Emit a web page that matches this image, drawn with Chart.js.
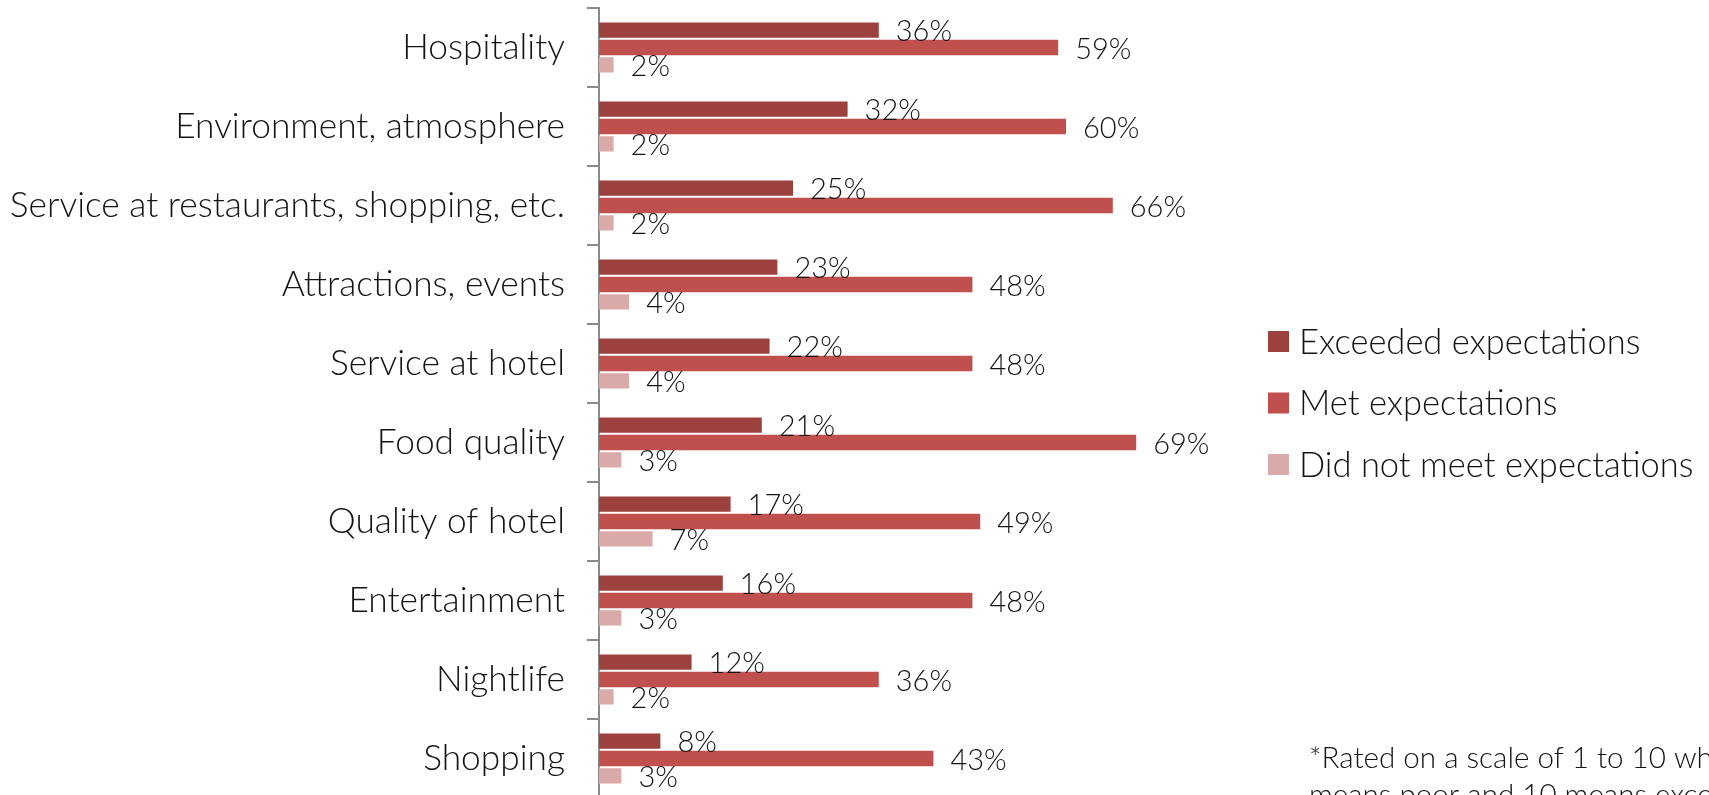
<!DOCTYPE html>
<html>
<head>
<meta charset="utf-8">
<script src="https://cdn.jsdelivr.net/npm/chart.js@4.4.1/dist/chart.umd.min.js"></script>
<style>
  html, body { margin: 0; padding: 0; background: #fff; overflow: hidden; }
  #wrap { position: relative; width: 1709px; height: 806px; }
</style>
</head>
<body>
<div id="wrap"><canvas id="chart"></canvas></div>
<script>
// Satisfaction ratings by aspect of the visit (percent of respondents)
const categories = [
  'Hospitality',
  'Environment, atmosphere',
  'Service at restaurants, shopping, etc.',
  'Attractions, events',
  'Service at hotel',
  'Food quality',
  'Quality of hotel',
  'Entertainment',
  'Nightlife',
  'Shopping'
];
const seriesNames = ['Exceeded expectations', 'Met expectations', 'Did not meet expectations'];
const exceeded = [36, 32, 25, 23, 22, 21, 17, 16, 12, 8];
const met      = [59, 60, 66, 48, 48, 69, 49, 48, 36, 43];
const notMet   = [2, 2, 2, 4, 4, 3, 7, 3, 2, 3];
const seriesColors = ['#9D413E', '#C0504D', '#DAAAA9'];
const footnoteLines = [
  '*Rated on a scale of 1 to 10 where 1',
  'means poor and 10 means excellent'
];

const FONT = "Lato, 'Open Sans', 'DejaVu Sans', sans-serif";
const FS_CAT = 35.3;  // category labels
const FS_LEG = 34.5;  // legend text
const FS_VAL = 29;    // value labels
const INK = '#141414';

// value labels just past the end of each bar
const valueLabels = {
  id: 'valueLabels',
  afterDatasetsDraw(chart) {
    const ctx = chart.ctx;
    ctx.save();
    ctx.font = `300 ${FS_VAL}px ${FONT}`;
    ctx.fillStyle = INK;
    ctx.textAlign = 'left';
    ctx.textBaseline = 'middle';
    chart.data.datasets.forEach((ds, di) => {
      const meta = chart.getDatasetMeta(di);
      meta.data.forEach((bar, i) => {
        ctx.fillText(ds.data[i] + '%', bar.x + 16, bar.y + 2);
      });
    });
    ctx.restore();
  }
};

// legend on the right and the footnote below it
const sideNotes = {
  id: 'sideNotes',
  afterDraw(chart) {
    const ctx = chart.ctx;
    ctx.save();
    ctx.font = `300 ${FS_LEG}px ${FONT}`;
    ctx.textAlign = 'left';
    ctx.textBaseline = 'middle';
    chart.data.datasets.forEach((ds, i) => {
      const y = 341.5 + i * 61.5;
      ctx.fillStyle = ds.backgroundColor;
      ctx.fillRect(1268, y - 10.5, 21, 21);
      ctx.fillStyle = INK;
      ctx.fillText(ds.label, 1299, y + 1);
    });
    ctx.font = `300 29.6px ${FONT}`;
    ctx.textBaseline = 'alphabetic';
    footnoteLines.forEach((t, i) => ctx.fillText(t, 1309, 768 + i * 37));
    ctx.restore();
  }
};

new Chart(document.getElementById('chart'), {
  type: 'bar',
  data: {
    labels: categories,
    datasets: [exceeded, met, notMet].map((d, i) => ({
      label: seriesNames[i],
      data: d,
      backgroundColor: seriesColors[i],
      borderColor: 'rgba(255,255,255,0.35)',
      borderWidth: 1,
      categoryPercentage: 0.66,
      barPercentage: 1.0
    }))
  },
  options: {
    indexAxis: 'y',
    responsive: true,
    maintainAspectRatio: false,
    animation: false,
    layout: { padding: { top: 8, right: 486, bottom: 8, left: 0 } },
    plugins: { legend: { display: false }, tooltip: { enabled: false } },
    scales: {
      x: { display: false, min: 0, max: 80 },
      y: {
        afterFit(s) { s.width = 599; s.paddingTop = 0; s.paddingBottom = 0; },
        border: { display: true, color: '#8A8A8A', width: 2 },
        grid: { drawOnChartArea: false, drawTicks: true, tickLength: 12, offset: true, color: '#8A8A8A', lineWidth: 2 },
        ticks: { color: INK, padding: 22, font: { family: FONT, size: FS_CAT, weight: 300 } }
      }
    }
  },
  plugins: [valueLabels, sideNotes]
});
</script>
</body>
</html>
